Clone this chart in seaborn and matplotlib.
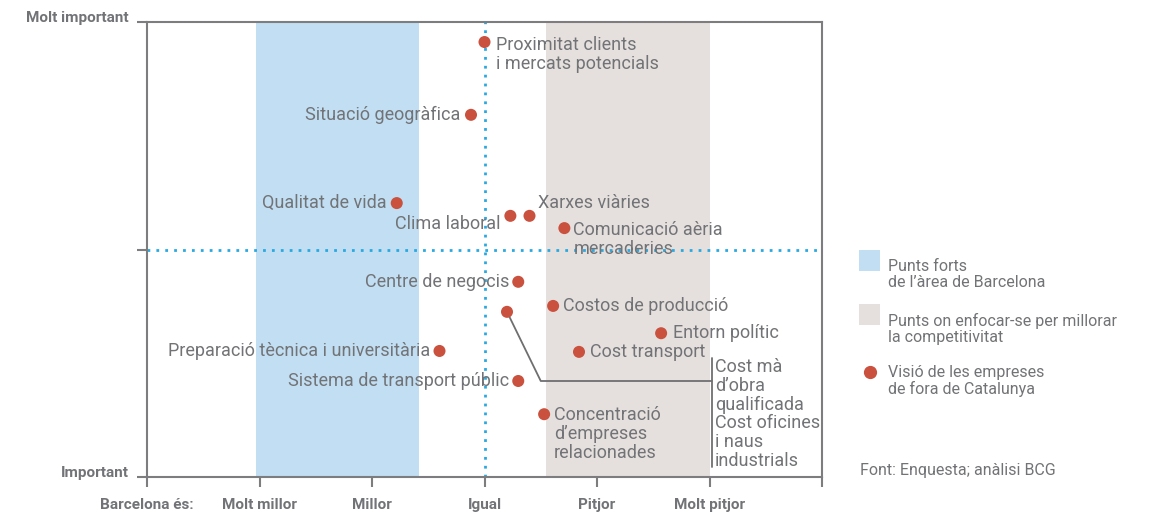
import matplotlib
matplotlib.use("Agg")
import matplotlib.pyplot as plt
import seaborn as sns
import pandas as pd
from matplotlib.patches import Rectangle
from matplotlib.lines import Line2D

# ---------------- data ----------------
x_tick_pos = [0, 1, 2, 3, 4, 5, 6]
x_tick_labels = ["Barcelona és:", "Molt millor", "Millor", "Igual", "Pitjor", "Molt pitjor", ""]
y_tick_pos = [0, 5, 10]
y_tick_labels = ["Important", "", "Molt important"]

factors = [
    "Proximitat clients\ni mercats potencials",
    "Situació geogràfica",
    "Qualitat de vida",
    "Clima laboral",
    "Xarxes viàries",
    "Comunicació aèria\nmercaderies",
    "Centre de negocis",
    "Costos de producció",
    "Cost mà d’obra qualificada / Cost oficines i naus industrials",
    "Entorn polític",
    "Cost transport",
    "Preparació tècnica i universitària",
    "Sistema de transport públic",
    "Concentració\nd’empreses\nrelacionades",
]
comparison = [3.00, 2.88, 2.22, 3.23, 3.40, 3.71, 3.30, 3.61, 3.20, 4.57, 3.84, 2.60, 3.30, 3.53]
importance = [9.56, 7.96, 6.02, 5.74, 5.74, 5.47, 4.29, 3.76, 3.63, 3.16, 2.75, 2.77, 2.11, 1.38]

strength_band = [0.97, 2.42]
focus_band = [3.55, 5.0]

leader_x = [3.20, 3.50, 5.02]
leader_y = [3.63, 2.11, 2.11]
bracket_x = [5.02, 5.02]
bracket_y = [2.62, 0.22]
bracket_text = "Cost mà\nd’obra\nqualificada\nCost oficines\ni naus\nindustrials"

legend_labels = [
    "Punts forts\nde l’àrea de Barcelona",
    "Punts on enfocar-se per millorar\nla competitivitat",
    "Visió de les empreses\nde fora de Catalunya",
]
source = "Font: Enquesta; anàlisi BCG"

# ---------------- styles ----------------
BLUE_BAND = "#c1def2"
GRAY_BAND = "#e5e0de"
DOT = "#c9513e"
DOTLINE = "#2aa9e0"
TXT = "#727376"
SPINE = "#7d7d7f"
FS = 13
LS = 1.06

# label placement: (dx, dy) in points, ha, va
placement = [
    (8.5, 4.5, "left", "top"),
    (-8, 0, "right", "center"),
    (-7, 0, "right", "center"),
    (-7, -6, "right", "center"),
    (6, 9, "left", "center"),
    (6.5, 5, "left", "top"),
    (-6.5, 0, "right", "center"),
    (7, 0, "left", "center"),
    None,
    (8.5, 0, "left", "center"),
    (8, 0, "left", "center"),
    (-6.5, 0, "right", "center"),
    (-6.5, 0, "right", "center"),
    (7, 6, "left", "top"),
]

sns.set_theme(style="white")
plt.rcParams["font.family"] = ["Roboto", "DejaVu Sans"]

W, H = 1155, 513
fig = plt.figure(figsize=(W / 100, H / 100), dpi=100)
ax = fig.add_axes([147 / W, 1 - 477 / H, (822 - 147) / W, (477 - 22) / H])

ax.axvspan(*strength_band, color=BLUE_BAND, lw=0, zorder=0)
ax.axvspan(*focus_band, color=GRAY_BAND, lw=0, zorder=0)
ax.axvline(3, color=DOTLINE, ls=(0, (1, 2.2)), lw=2, zorder=1)
ax.axhline(5, color=DOTLINE, ls=(0, (1, 2.2)), lw=2, zorder=1)

ax.plot(leader_x, leader_y, color="#6f6f71", lw=1.3, zorder=2)
ax.plot(bracket_x, bracket_y, color="#6f6f71", lw=1.3, zorder=2)
ax.annotate(bracket_text, (bracket_x[0], bracket_y[0]), xytext=(2.5, 0),
            textcoords="offset points", ha="left", va="top",
            fontsize=FS, color=TXT, linespacing=LS)

df = pd.DataFrame({"factor": factors, "x": comparison, "y": importance})
sns.scatterplot(data=df, x="x", y="y", ax=ax, color=DOT, s=75,
                edgecolor="none", zorder=3, legend=False)

for (f, xv, yv, pl) in zip(factors, comparison, importance, placement):
    if pl is None:
        continue
    dx, dy, ha, va = pl
    ax.annotate(f, (xv, yv), xytext=(dx, dy), textcoords="offset points",
                ha=ha, va=va, fontsize=FS, color=TXT, linespacing=LS)

ax.set_xlim(0, 6)
ax.set_ylim(0, 10)
ax.set_xticks(x_tick_pos)
ax.set_xticklabels(x_tick_labels, fontweight="bold", fontsize=11, color=TXT)
ax.set_yticks(y_tick_pos)
ax.set_yticklabels(y_tick_labels, fontweight="bold", fontsize=11, color=TXT)
for t in ax.get_yticklabels():
    t.set_va("baseline")
ax.set_xlabel("")
ax.set_ylabel("")
ax.tick_params(axis="both", which="both", length=7, width=1.5, color=SPINE,
               direction="out", bottom=True, left=True, pad=8)
ax.tick_params(axis="y", pad=6)
for s in ax.spines.values():
    s.set_visible(True)
    s.set_color(SPINE)
    s.set_linewidth(1.5)

# legend (manual, figure pixel placement)
def fx(px):
    return px / W

def fy(py):
    return 1 - py / H

fig.add_artist(Rectangle((fx(859), fy(271)), 21 / W, 21 / H, transform=fig.transFigure,
                         color=BLUE_BAND, lw=0))
fig.add_artist(Rectangle((fx(859), fy(325)), 21 / W, 21 / H, transform=fig.transFigure,
                         color=GRAY_BAND, lw=0))
fig.add_artist(Line2D([fx(870)], [fy(372)], transform=fig.transFigure, marker="o",
                      markersize=8.5, color=DOT, lw=0))
for lab, ytop in zip(legend_labels, [259, 313, 365]):
    fig.text(fx(888), fy(ytop), lab, ha="left", va="top", fontsize=11.5,
             color=TXT, linespacing=1.08)
fig.text(fx(860), fy(470), source, ha="left", va="center", fontsize=11.5, color=TXT)

fig.savefig("out.png", dpi=100, facecolor="white")
